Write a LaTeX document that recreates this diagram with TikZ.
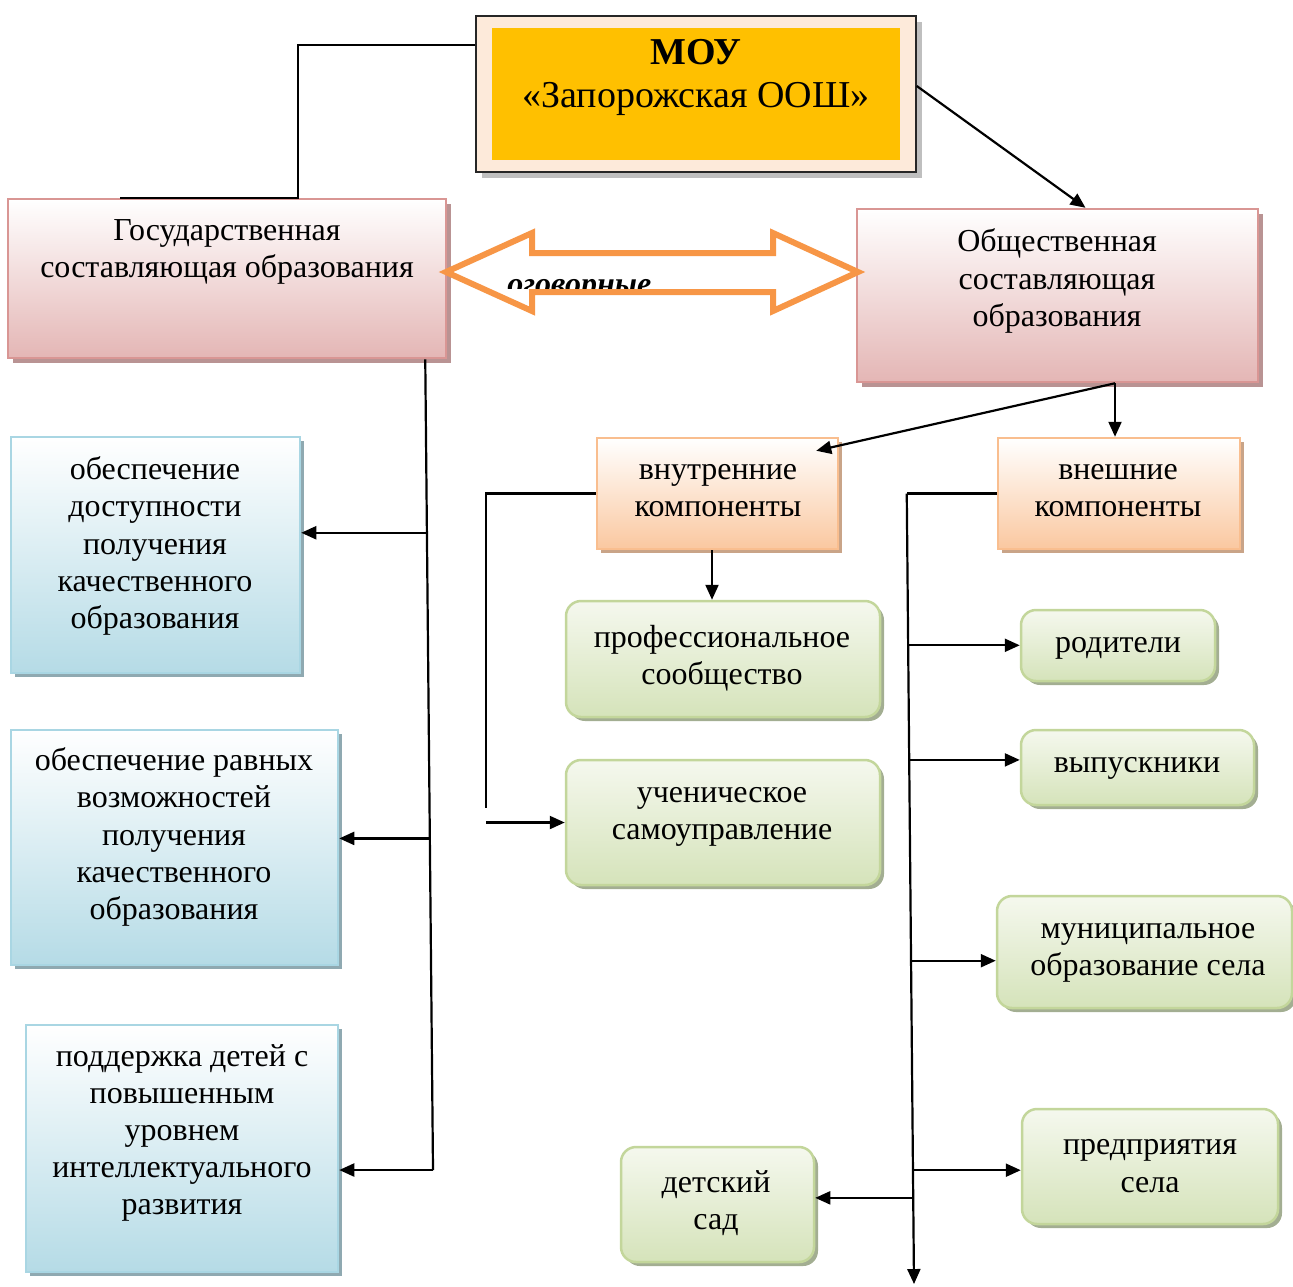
\documentclass[tikz,border=0pt]{standalone}
\usepackage{fontspec}
\setmainfont{Liberation Serif}
\usetikzlibrary{arrows.meta}
\usetikzlibrary{shadows}
\usetikzlibrary{calc}

\definecolor{mouback}{HTML}{FDEADA}
\definecolor{mougold}{HTML}{FFC000}
\definecolor{moushade}{HTML}{BFBFBF}
\definecolor{pinkfill}{HTML}{E4B6B5}
\definecolor{pinkline}{HTML}{D99694}
\definecolor{pinkshade}{HTML}{B99393}
\definecolor{bluefill}{HTML}{B5DBE6}
\definecolor{blueline}{HTML}{A9D6E3}
\definecolor{blueshade}{HTML}{8FA9B1}
\definecolor{peachfill}{HTML}{FAC8A0}
\definecolor{peachline}{HTML}{F9BE8F}
\definecolor{peachshade}{HTML}{C9A488}
\definecolor{greentop}{HTML}{F5F8EE}
\definecolor{greenfill}{HTML}{D5E3BA}
\definecolor{greenline}{HTML}{C3D69B}
\definecolor{greenshade}{HTML}{A3AE92}
\definecolor{arroworange}{HTML}{F79646}

\tikzset{
  conn/.style={line width=1.1pt},
  arr/.style={conn,-{Triangle[length=7.5pt,width=6.5pt]}},
  txt/.style={align=center,inner sep=0pt,yshift=-1.5pt,font=\fontsize{16}{18.6}\selectfont},
  box/.style={inner sep=0pt,line width=1.25pt},
  moubox/.style={box,draw=black!85,line width=0.75pt,fill=mouback,
    drop shadow={shadow xshift=3pt,shadow yshift=-3pt,fill=moushade,opacity=1}},
  gosbox/.style={box,draw=pinkline,top color=white,bottom color=pinkfill,
    drop shadow={shadow xshift=2.5pt,shadow yshift=-2.5pt,fill=pinkshade,opacity=1}},
  bluebox/.style={box,draw=blueline,top color=white,bottom color=bluefill,
    drop shadow={shadow xshift=2pt,shadow yshift=-2pt,fill=blueshade,opacity=1}},
  peachbox/.style={box,draw=peachline,top color=white,bottom color=peachfill,
    drop shadow={shadow xshift=2pt,shadow yshift=-2pt,fill=peachshade,opacity=1}},
  greenbox/.style={box,rounded corners=7.5pt,draw=greenline,top color=greentop,bottom color=greenfill,
    drop shadow={shadow xshift=2pt,shadow yshift=-2pt,fill=greenshade,opacity=1}},
  dblarrow/.style={draw=arroworange,line width=3pt,fill=white,line join=miter}
}

\begin{document}
\begin{tikzpicture}[x=0.5pt,y=-0.5pt]
\useasboundingbox (0,0) rectangle (1293,1286);

% top
\node[moubox,minimum width=220pt,minimum height=78pt] (mou) at (696,94) {};
\node[fill=mougold,inner sep=0pt,minimum width=204pt,minimum height=66pt] (mouin) at (696,94) {};
\node[txt,font=\fontsize{19}{21.5}\selectfont] (moutxt) at (696,74) {\textbf{МОУ}\\«Запорожская ООШ»};

% two main parts
\node[gosbox,minimum width=219pt,minimum height=79.5pt] (gos) at (227,278.5) {};
\node[txt] (gostxt) at (227,249) {Государственная\\составляющая образования};
\node[gosbox,minimum width=200.5pt,minimum height=86.5pt] (obsh) at (1057.5,295.5) {};
\node[txt] (obshtxt) at (1057,278) {Общественная\\составляющая\\образования};

% left column
\node[bluebox,minimum width=144.5pt,minimum height=118pt] (dost) at (155.5,555) {};
\node[txt] (dosttxt) at (155,543) {обеспечение\\доступности\\получения\\качественного\\образования};
\node[bluebox,minimum width=163.5pt,minimum height=117.5pt] (ravn) at (174.5,847.5) {};
\node[txt] (ravntxt) at (174,834) {обеспечение равных\\возможностей\\получения\\качественного\\образования};
\node[bluebox,minimum width=156pt,minimum height=123.5pt] (podd) at (182,1148.5) {};
\node[txt] (poddtxt) at (182,1130) {поддержка детей с\\повышенным\\уровнем\\интеллектуального\\развития};

% components
\node[peachbox,minimum width=120.5pt,minimum height=55.5pt] (vnutr) at (717.5,493.5) {};
\node[txt] (vnutrtxt) at (718,488) {внутренние\\компоненты};
\node[peachbox,minimum width=121pt,minimum height=55.5pt] (vnesh) at (1119,493.5) {};
\node[txt] (vneshtxt) at (1118,488) {внешние\\компоненты};

% green boxes
\node[greenbox,minimum width=157pt,minimum height=58pt] (prof) at (723,659) {};
\node[txt] (proftxt) at (722,655) {профессиональное\\сообщество};
\node[greenbox,minimum width=157pt,minimum height=62.5pt] (uchen) at (723,822.5) {};
\node[txt] (uchentxt) at (722,814) {ученическое\\самоуправление};
\node[greenbox,minimum width=97pt,minimum height=35.5pt] (rodit) at (1118,645.5) {};
\node[txt] (rodittxt) at (1118,645) {родители};
\node[greenbox,minimum width=116.5pt,minimum height=37.5pt] (vypus) at (1137.5,767.5) {};
\node[txt] (vypustxt) at (1137,765) {выпускники};
\node[greenbox,minimum width=147.5pt,minimum height=56pt] (munic) at (1144.5,952) {};
\node[txt] (munictxt) at (1148,950) {муниципальное\\образование села};
\node[greenbox,minimum width=128pt,minimum height=57.5pt] (predpr) at (1150,1166.5) {};
\node[txt] (predprtxt) at (1150,1163) {предприятия\\села};
\node[greenbox,minimum width=96.5pt,minimum height=57.5pt] (sad) at (717.5,1204.5) {};
\node[txt] (sadtxt) at (716,1200) {детский\\сад};

% arrows from the top
\draw[conn] ([yshift=-15pt]mou.north west) -| ([xshift=35.5pt]gos.north) -- ([xshift=-53.5pt]gos.north);
\draw[arr] ([yshift=4pt]mou.east) -- ([xshift=14pt]obsh.north);

% double arrow
\draw[dblarrow] (446,272) -- (532,233) -- (532,253) -- (773,253) -- (773,233) -- (858,272)
  -- (773,311) -- (773,292) -- (532,292) -- (532,311) -- cycle;
\begin{scope}
\clip (500,256) rectangle (700,288.5);
\node[txt,yshift=0pt,font=\fontsize{16}{18.6}\selectfont\bfseries\itshape,anchor=base west] (dogov) at (507,291) {оговорные};
\end{scope}

% state part
\coordinate (gtop) at ([xshift=-11pt]gos.south east);
\coordinate (gbot) at (433,1170);
\draw[conn] (gtop) -- (gbot);
\foreach \t/\n in {0.214/dost,0.591/ravn,1/podd}{
  \path ($(gtop)!\t!(gbot)$) coordinate (gp);
  \draw[arr] (gp) -- (gp -| \n.east);
}

% public part
\coordinate (ob) at ([xshift=28.75pt]obsh.south);
\draw[arr] (ob) -- (ob |- vnesh.north);
\draw[arr] (ob) -- ([xshift=-11.5pt,yshift=-7pt]vnutr.north east);

% inner components
\draw[arr] ([xshift=-2.75pt]vnutr.south) coordinate (vs) -- (vs |- prof.north);
\coordinate (vl) at (486,808);
\draw[conn] (vnutr.west) -| (vl);
\draw[arr] (vl |- uchen.west) -- (uchen.west);

% outer components
\coordinate (et) at ([xshift=-45pt]vnesh.west);
\coordinate (eb) at (914,1284);
\draw[conn] (vnesh.west) -- (et);
\draw[arr] (et) -- (eb);
\foreach \t/\n in {0.192/rodit,0.337/vypus,0.591/munic,0.856/predpr}{
  \path ($(et)!\t!(eb)$) coordinate (ep);
  \draw[arr] (ep) -- (ep -| \n.west);
}
\path ($(et)!0.891!(eb)$) coordinate (ep);
\draw[arr] (ep) -- (ep -| sad.east);

\end{tikzpicture}
\end{document}
